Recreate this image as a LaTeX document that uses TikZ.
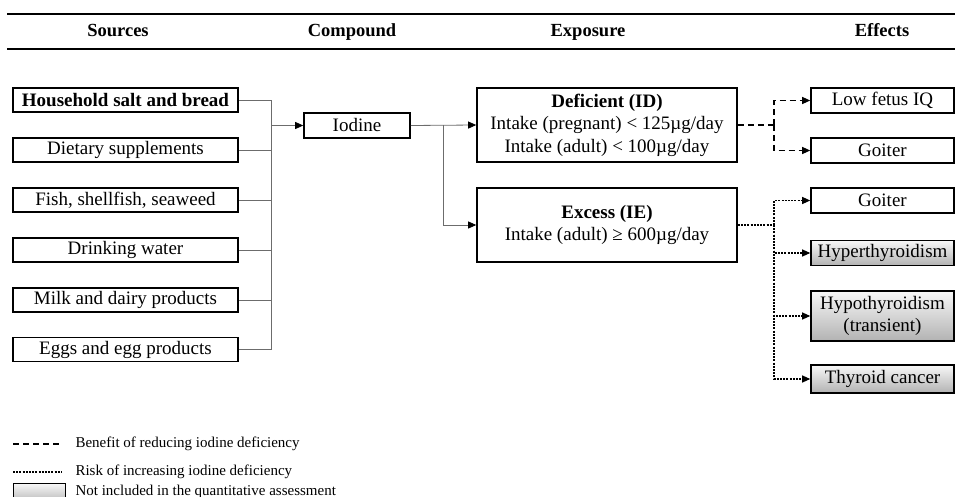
\documentclass[tikz,border=0pt]{standalone}
\usepackage{fontspec}
\setmainfont{Liberation Serif}
\usetikzlibrary{arrows.meta,positioning}

\begin{document}
\begin{tikzpicture}[x=1pt, y=-1pt,
    box/.style={draw, line width=1.6pt, inner sep=1pt, align=center,
        font=\fontsize{19}{22.5}\selectfont},
    srcbox/.style={box, minimum width=225pt, minimum height=24pt},
    effbox/.style={box, minimum width=143pt, minimum height=25pt},
    greybox/.style={top color=gray!6, bottom color=gray!60},
    head/.style={font=\fontsize{18.5}{20}\selectfont\bfseries, text height=13pt, text depth=4pt},
    feed/.style={draw=gray!85!black, line width=0.8pt},
    tip/.style={-{Triangle[length=8pt,width=7pt,color=black]}},
    benefit/.style={line width=1.1pt, dash pattern=on 6pt off 4pt},
    risk/.style={line width=1.1pt, dash pattern=on 2pt off 1.2pt},
    legtext/.style={anchor=west, font=\fontsize{15}{17}\selectfont}]
    \useasboundingbox (0,0) rectangle (955,497);

    % Header
    \draw[line width=1.8pt] (7,14) -- (955,14);
    \draw[line width=1.8pt] (7,49) -- (955,49);
    \node[head] (hsrc) at (118,32) {Sources};
    \node[head] (hcmp) at (352,32) {Compound};
    \node[head] (hexp) at (588,32) {Exposure};
    \node[head] (heff) at (882,32) {Effects};

    % Sources
    \node[srcbox] (s1) at (125.5,100) {\bfseries Household salt and bread};
    \node[srcbox] (s2) at (125.5,150) {Dietary supplements};
    \node[srcbox] (s3) at (125.5,200) {Fish, shellfish, seaweed};
    \node[srcbox] (s4) at (125.5,250) {Drinking water};
    \node[srcbox] (s5) at (125.5,300) {Milk and dairy products};
    \node[srcbox] (s6) at (125.5,349.5) {Eggs and egg products};

    % Compound
    \node[box, minimum width=106pt, minimum height=25pt] (iodine) at (357,125.5) {Iodine};
    \coordinate (srcbus) at (271.5,125.5);
    \foreach \i in {1,...,6}
        \draw[feed] (s\i.east) -| (srcbus);
    \draw[feed, tip] (srcbus) -- (iodine.west);

    % Exposure
    \node[box, minimum width=260pt, minimum height=74pt] (defic) at (607,125)
        {\textbf{Deficient (ID)}\\Intake (pregnant) < 125µg/day\\Intake (adult) < 100µg/day};
    \node[box, minimum width=260pt, minimum height=74pt] (excess) at (607,225)
        {\textbf{Excess (IE)}\\Intake (adult) ≥ 600µg/day};
    \coordinate (expbus) at (443,125.5);
    \draw[feed, tip] (iodine.east) -- (defic.west);
    \draw[feed, tip] (expbus) |- (excess.west);

    % Effects
    \node[effbox] (lowiq) at (882.5,100.5) {Low fetus IQ};
    \node[effbox] (goitera) at (882.5,150.5) {Goiter};
    \node[effbox] (goiterb) at (882.5,200.5) {Goiter};
    \node[effbox, greybox] (hyper) at (882.5,253) {Hyperthyroidism};
    \node[effbox, greybox, minimum height=50pt] (hypo) at (882.5,316) {Hypothyroidism\\(transient)};
    \node[effbox, greybox, minimum height=28pt] (cancer) at (882.5,379) {Thyroid cancer};

    \coordinate (defbus) at (774,125);
    \draw[benefit] (defic.east) -- (defbus);
    \draw[benefit, tip] (defbus) |- (lowiq.west);
    \draw[benefit, tip] (defbus) |- (goitera.west);

    \coordinate (excbus) at (774,225);
    \draw[risk] (excess.east) -- (excbus);
    \foreach \e in {goiterb,hyper,hypo,cancer}
        \draw[risk, tip] (excbus) |- (\e.west);

    % Legend
    \coordinate (leg1) at (13,444);
    \coordinate (leg2) at (13,472);
    \draw[benefit] (leg1) -- ++(49,0) coordinate (leg1e);
    \node[legtext] (ltxt1) at (72,444) {Benefit of reducing iodine deficiency};
    \draw[risk] (leg2) -- ++(49,0) coordinate (leg2e);
    \node[legtext] (ltxt2) at (72,472) {Risk of increasing iodine deficiency};
    \node[draw, line width=1pt, greybox, minimum width=52pt, minimum height=20pt, anchor=north west] (legbox) at (13,483) {};
    \node[legtext] (ltxt3) at (72,492) {Not included in the quantitative assessment};
\end{tikzpicture}
\end{document}
